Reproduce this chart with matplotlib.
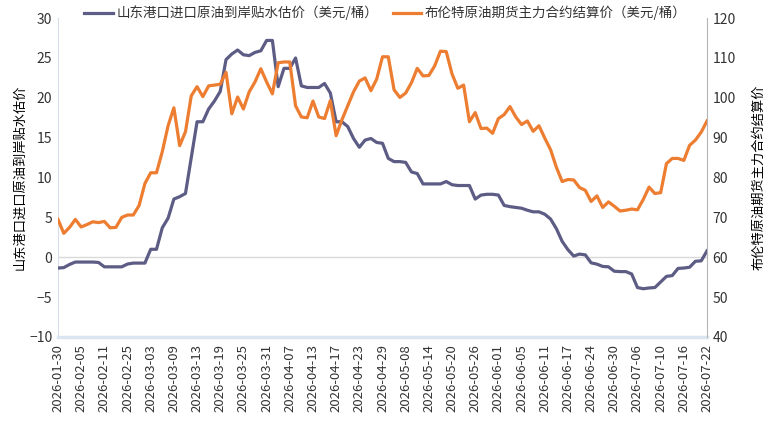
import matplotlib.pyplot as plt

plt.rcParams['font.family'] = ['Noto Sans CJK SC', 'DejaVu Sans']

# 每个交易日一个点，每4个点标一个日期
tick_labels = ['2026-01-30', '2026-02-05', '2026-02-11', '2026-02-25', '2026-03-03',
               '2026-03-09', '2026-03-13', '2026-03-19', '2026-03-25', '2026-03-31',
               '2026-04-07', '2026-04-13', '2026-04-17', '2026-04-23', '2026-04-29',
               '2026-05-08', '2026-05-14', '2026-05-20', '2026-05-26', '2026-06-01',
               '2026-06-05', '2026-06-11', '2026-06-17', '2026-06-24', '2026-06-30',
               '2026-07-06', '2026-07-10', '2026-07-16', '2026-07-22']

# 山东港口进口原油到岸贴水估价（美元/桶）
discount = [-1.35, -1.3, -0.9, -0.6, -0.6, -0.6, -0.6, -0.65, -1.2, -1.2,
            -1.2, -1.2, -0.85, -0.73, -0.73, -0.73, 1.0, 1.0, 3.7, 4.9,
            7.3, 7.6, 8.0, 12.5, 17.0, 17.0, 18.6, 19.6, 20.8, 24.8,
            25.5, 26.0, 25.4, 25.3, 25.7, 25.9, 27.2, 27.2, 21.4, 23.7,
            23.7, 25.0, 21.5, 21.3, 21.3, 21.3, 21.8, 20.6, 17.0, 17.0,
            16.4, 14.9, 13.8, 14.7, 14.9, 14.4, 14.3, 12.4, 12.0, 12.0,
            11.9, 10.7, 10.5, 9.2, 9.2, 9.2, 9.2, 9.5, 9.1, 9.0,
            9.0, 9.0, 7.3, 7.8, 7.9, 7.9, 7.8, 6.5, 6.35, 6.25,
            6.15, 5.9, 5.7, 5.7, 5.4, 4.8, 3.6, 2.0, 0.95, 0.15,
            0.4, 0.3, -0.7, -0.86, -1.15, -1.2, -1.75, -1.8, -1.8, -2.1,
            -3.8, -3.95, -3.85, -3.8, -3.1, -2.4, -2.3, -1.4, -1.35, -1.25,
            -0.5, -0.45, 0.8]

# 布伦特原油期货主力合约结算价（美元/桶）
brent = [69.5, 66.0, 67.5, 69.5, 67.6, 68.2, 68.9, 68.7, 69.0, 67.4,
         67.5, 70.0, 70.6, 70.6, 73.0, 78.5, 81.2, 81.2, 86.5, 93.0,
         97.5, 88.0, 91.5, 100.5, 102.8, 100.3, 103.0, 103.2, 103.4, 106.4,
         96.0, 100.2, 97.2, 101.5, 104.0, 107.3, 104.0, 101.0, 108.8, 109.0,
         109.0, 98.0, 95.2, 95.0, 99.2, 95.2, 94.8, 99.3, 90.5, 94.5,
         98.0, 101.5, 104.2, 105.0, 101.8, 104.7, 110.3, 110.3, 102.0, 100.1,
         101.2, 103.8, 107.4, 105.5, 105.6, 108.0, 111.7, 111.6, 106.0, 102.4,
         103.2, 94.0, 96.3, 92.3, 92.4, 91.1, 94.8, 95.8, 97.8, 95.2,
         93.3, 94.2, 91.6, 93.0, 89.9, 87.0, 82.6, 79.0, 79.5, 79.4,
         77.5, 76.8, 74.0, 75.4, 72.5, 73.9, 72.8, 71.6, 71.8, 72.1,
         71.9, 74.5, 77.6, 76.0, 76.2, 83.5, 84.8, 84.8, 84.3, 88.1,
         89.4, 91.4, 94.2]

name1 = '山东港口进口原油到岸贴水估价（美元/桶）'
name2 = '布伦特原油期货主力合约结算价（美元/桶）'
c1 = '#5d5c85'
c2 = '#ed7d31'
txt = '#333333'

fig = plt.figure(figsize=(7.71, 4.42), dpi=100)
ax = fig.add_axes([0.0752, 0.2376, 0.8418, 0.7214])
ax2 = ax.twinx()

x = list(range(len(discount)))
ax.axhline(0, color='#d9d9d9', lw=1, zorder=1)
l1, = ax.plot(x, discount, color=c1, lw=2.3, solid_joinstyle='round', zorder=3)
l2, = ax2.plot(x, brent, color=c2, lw=2.3, solid_joinstyle='round', zorder=3)

ax.set_xlim(0, len(x) - 1)
ax.set_ylim(-10, 30)
ax2.set_ylim(40, 120)
ax.set_yticks(range(-10, 31, 5))
ax2.set_yticks(range(40, 121, 10))
ax.set_xticks(range(0, len(x), 4))
ax.set_xticklabels(tick_labels, rotation=90)

for a in (ax, ax2):
    a.tick_params(length=0, labelsize=10, colors=txt, pad=4)
    for s in a.spines.values():
        s.set_visible(False)
ax.tick_params(axis='x', labelsize=9.5, pad=5)

ax.spines['left'].set_visible(True)
ax.spines['left'].set_color('#d5dde8')
ax.spines['bottom'].set_visible(True)
ax.spines['bottom'].set_color('#dbe5f1')
ax.spines['bottom'].set_linewidth(2.5)
ax2.spines['right'].set_visible(True)
ax2.spines['right'].set_color('#b5b5b5')

ax.set_ylabel(name1.split('（')[0], fontsize=9.5, color='black', labelpad=2)
ax2.set_ylabel(name2.split('（')[0], fontsize=9.5, color='black', rotation=90, labelpad=12)

fig.legend([l1, l2], [name1, name2], loc='upper center', bbox_to_anchor=(0.5, 1.015),
           ncol=2, frameon=False, fontsize=9.7, labelcolor=txt, handlelength=2.1,
           columnspacing=1.05, handletextpad=0.3)

fig.savefig('out.png', dpi=100)
